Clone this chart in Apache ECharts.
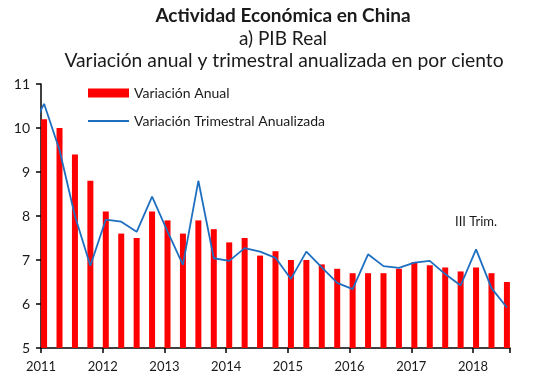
<!DOCTYPE html>
<html>
<head>
<meta charset="utf-8">
<script src="https://cdn.jsdelivr.net/npm/echarts@6/dist/echarts.min.js"></script>
<style>html,body{margin:0;padding:0;background:#fff}#c{width:534px;height:382px}</style>
</head>
<body>
<div id="c"></div>
<script>
// Quarters from 2011 Q1 to 2018 Q3
var quarters = ["2011Q1","2011Q2","2011Q3","2011Q4","2012Q1","2012Q2","2012Q3","2012Q4",
  "2013Q1","2013Q2","2013Q3","2013Q4","2014Q1","2014Q2","2014Q3","2014Q4",
  "2015Q1","2015Q2","2015Q3","2015Q4","2016Q1","2016Q2","2016Q3","2016Q4",
  "2017Q1","2017Q2","2017Q3","2017Q4","2018Q1","2018Q2","2018Q3"];
var variacionAnual = [10.2,10.0,9.4,8.8, 8.1,7.6,7.5,8.1, 7.9,7.6,7.9,7.7, 7.4,7.5,7.1,7.2,
  7.0,7.0,6.9,6.8, 6.7,6.7,6.7,6.8, 6.95,6.88,6.83,6.74, 6.83,6.7,6.5];
// first value is 2010 Q4 (clipped at the axis start)
var trimestralPrev = 9.86;
var variacionTrimestral = [10.55,9.5,8.0,6.87, 7.92,7.87,7.64,8.44, 7.65,6.89,8.80,7.04, 6.98,7.27,7.19,7.05,
  6.57,7.19,6.83,6.48, 6.34,7.13,6.86,6.82, 6.94,6.98,6.68,6.42, 7.24,6.36,5.92];
var yearLabels = ["2011","2012","2013","2014","2015","2016","2017","2018"];
var yTicks = [5,6,7,8,9,10,11];

var OFF = 0.2; // bar centre offset from quarter start
var barData = variacionAnual.map(function(v,i){return [i+OFF, v];});
var lineData = [[-1+OFF, trimestralPrev]].concat(variacionTrimestral.map(function(v,i){return [i+OFF, v];}));

var font = 'Lato, "Open Sans", sans-serif';
var chart = echarts.init(document.getElementById('c'));
chart.setOption({
  animation:false,
  title:[
    {text:'Actividad Económica en China', left:278, textAlign:'center', top:1,
     textStyle:{fontFamily:font, fontSize:19, fontWeight:'bold', color:'#1a1a1a'}},
    {text:'a) PIB Real', left:278, textAlign:'center', top:24,
     textStyle:{fontFamily:font, fontSize:19, fontWeight:'normal', color:'#1a1a1a'}},
    {text:'Variación anual y trimestral anualizada en por ciento', left:279, textAlign:'center', top:46,
     textStyle:{fontFamily:font, fontSize:19.3, fontWeight:'normal', color:'#1a1a1a'}}
  ],
  legend:{
    orient:'vertical', left:82, top:81, itemWidth:41, itemHeight:9, itemGap:14,
    textStyle:{fontFamily:font, fontSize:14, color:'#1a1a1a'},
    data:[{name:'Variación Anual', icon:'rect'},
          {name:'Variación Trimestral Anualizada', itemStyle:{opacity:0}}]
  },
  grid:{left:41, right:24, top:84, bottom:34},
  xAxis:{
    type:'value', min:0, max:30.4, interval:4,
    axisLine:{show:true, lineStyle:{color:'#000', width:1.5}},
    axisTick:{show:true, length:5, lineStyle:{color:'#000', width:1.5}},
    axisLabel:{fontFamily:font, fontSize:13, color:'#1a1a1a', margin:12,
      formatter:function(v){var k=Math.round(v/4); return yearLabels[k]||'';}},
    splitLine:{show:false}
  },
  yAxis:{
    type:'value', min:yTicks[0], max:yTicks[yTicks.length-1], interval:1,
    axisLine:{show:true, lineStyle:{color:'#000', width:1.5}},
    axisTick:{show:true, length:5, lineStyle:{color:'#000', width:1.5}},
    axisLabel:{fontFamily:font, fontSize:14, color:'#1a1a1a', margin:11},
    splitLine:{show:false}
  },
  series:[
    {name:'Variación Anual', type:'bar', data:barData, barWidth:6,
     itemStyle:{color:'#ff0000'}, z:2},
    {name:'Variación Trimestral Anualizada', type:'line', data:lineData, symbol:'none', clip:true,
     lineStyle:{color:'#1f6fc0', width:1.8}, itemStyle:{color:'#1f6fc0'}, z:3}
  ],
  graphic:[
    {type:'text', left:455, top:215, style:{text:'III Trim.', font:'13px '+font, fill:'#1a1a1a'}}
  ]
});
</script>
</body>
</html>
